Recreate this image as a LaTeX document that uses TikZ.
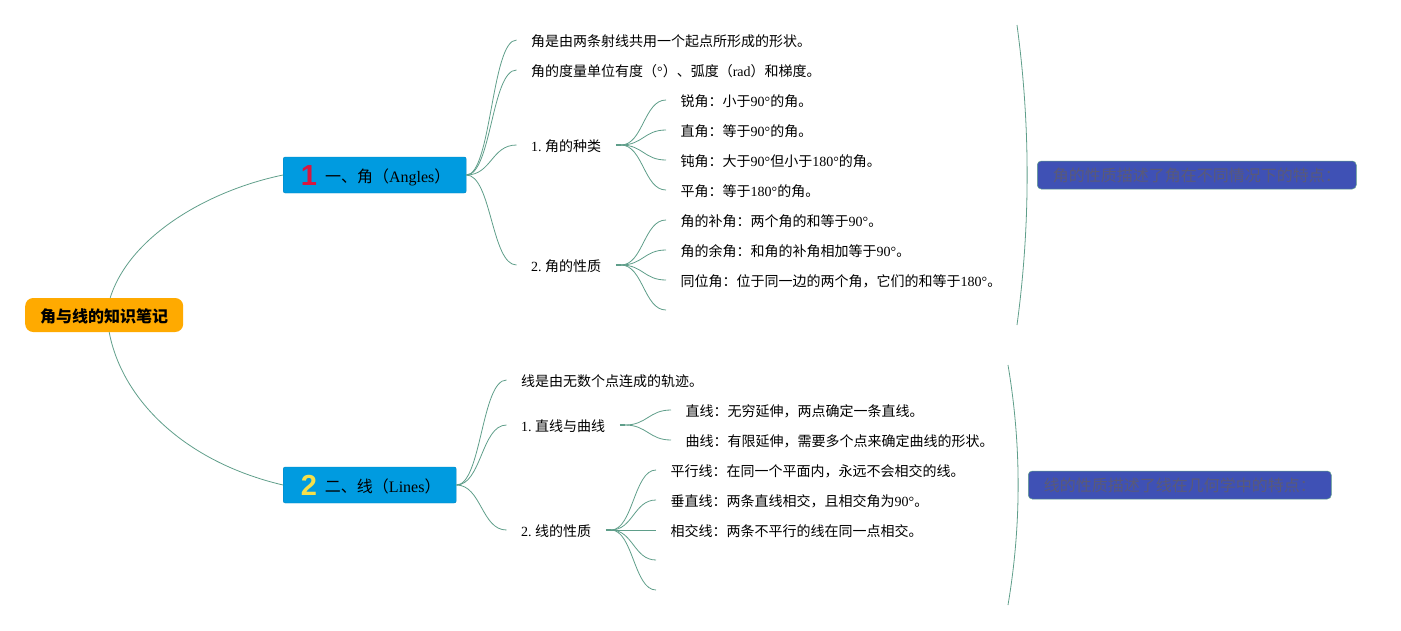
\documentclass[tikz,border=0pt]{standalone}
\usepackage{fontspec}
\setmainfont{Liberation Serif}
\newfontfamily\cjk{Noto Sans CJK SC}
\newfontfamily\markfont{Liberation Sans}
\newcommand{\zh}[1]{{\cjk #1}}
\frenchspacing
\definecolor{linkgreen}{HTML}{5F9E8A}
\definecolor{rootorange}{HTML}{FFAA00}
\definecolor{topicblue}{HTML}{009BE0}
\definecolor{noteblue}{HTML}{3F51B5}
\definecolor{notetext}{HTML}{5A5A78}
\definecolor{markred}{HTML}{D9163F}
\definecolor{markyellow}{HTML}{F5E04A}
\newcommand{\topicmark}[2]{\hspace*{2pt}{\markfont\fontsize{29}{29}\selectfont\bfseries\textcolor{#1}{\raisebox{-3pt}{#2}}}\hspace{8pt}}
\tikzset{
  leaf/.style={anchor=west, inner xsep=14.5pt, inner ysep=0pt, font=\fontsize{14}{14}\selectfont, text height=15pt, text depth=2pt},
  root/.style={fill=rootorange, rounded corners=8pt, minimum width=158pt, minimum height=34pt, inner sep=0pt, anchor=west, font=\fontsize{16}{16}\selectfont, text height=17pt, text depth=3pt},
  topic/.style={fill=topicblue, draw=topicblue!85!black, line width=0.4pt, rounded corners=2pt, minimum height=36pt, inner sep=0pt, anchor=west, font=\fontsize{16}{16}\selectfont, text height=17pt, text depth=3pt},
  note/.style={fill=noteblue, draw=linkgreen, line width=0.5pt, rounded corners=4pt, minimum height=28pt, inner sep=0pt, anchor=west, text=notetext, font=\fontsize{16}{16}\selectfont},
  link/.style={draw=linkgreen, line width=0.8pt},
  stem/.style={draw=linkgreen, line width=1.6pt},
  twig/.style={link, out=0, in=180, distance=#1},
  twig/.default=24pt
}
\begin{document}
\begin{tikzpicture}[x=1pt, y=-1pt]
\useasboundingbox (0,0) rectangle (1401,630);

\node[root] (root) at (25,315) {\zh{\bfseries 角与线的知识笔记}};
\node[topic, minimum width=183pt] (angles) at (283,175) {\topicmark{markred}{1}\zh{一、角（}Angles\zh{）}};
\node[topic, minimum width=173pt] (lines) at (283,485) {\topicmark{markyellow}{2}\zh{二、线（}Lines\zh{）}};

% first part
\node[leaf] (a1) at (516.5,40) {\zh{角是由两条射线共用一个起点所形成的形状。}};
\node[leaf] (a2) at (516.5,70) {\zh{角的度量单位有度（}°\zh{）、弧度（}rad\zh{）和梯度。}};
\node[leaf] (a3) at (516.5,145) {1. \zh{角的种类}};
\node[leaf] (a4) at (516.5,265) {2. \zh{角的性质}};
\node[leaf] (a31) at (666,100) {\zh{锐角：小于}90°\zh{的角。}};
\node[leaf] (a32) at (666,130) {\zh{直角：等于}90°\zh{的角。}};
\node[leaf] (a33) at (666,160) {\zh{钝角：大于}90°\zh{但小于}180°\zh{的角。}};
\node[leaf] (a34) at (666,190) {\zh{平角：等于}180°\zh{的角。}};
\node[leaf] (a41) at (666,220) {\zh{角的补角：两个角的和等于}90°\zh{。}};
\node[leaf] (a42) at (666,250) {\zh{角的余角：和角的补角相加等于}90°\zh{。}};
\node[leaf] (a43) at (666,280) {\zh{同位角：位于同一边的两个角，它们的和等于}180°\zh{。}};
\coordinate (a44) at (666,310);
\coordinate (a3hub) at (621,145);
\coordinate (a4hub) at (621,265);

% second part
\node[leaf] (b1) at (506.5,380) {\zh{线是由无数个点连成的轨迹。}};
\node[leaf] (b2) at (506.5,425) {1. \zh{直线与曲线}};
\node[leaf] (b3) at (506.5,530) {2. \zh{线的性质}};
\node[leaf] (b21) at (671,410) {\zh{直线：无穷延伸，两点确定一条直线。}};
\node[leaf] (b22) at (671,440) {\zh{曲线：有限延伸，需要多个点来确定曲线的形状。}};
\node[leaf] (b31) at (656,470) {\zh{平行线：在同一个平面内，永远不会相交的线。}};
\node[leaf] (b32) at (656,500) {\zh{垂直线：两条直线相交，且相交角为}90°\zh{。}};
\node[leaf] (b33) at (656,530) {\zh{相交线：两条不平行的线在同一点相交。}};
\coordinate (b34) at (656,560);
\coordinate (b35) at (656,590);
\coordinate (b2hub) at (625,425);
\coordinate (b3hub) at (611,530);

% summaries
\node[note, minimum width=319pt] (anote) at (1037,175) {\zh{角的性质描述了角在不同情况下的特点：}};
\node[note, minimum width=303pt] (bnote) at (1028,485) {\zh{线的性质描述了线在几何学中的特点：}};
\coordinate (atop) at (1017,25);
\coordinate (abot) at (1017,325);
\coordinate (btop) at (1008,365);
\coordinate (bbot) at (1008,605);

\draw[link] ([xshift=6pt]root.north) .. controls (130,235) and (210,190) .. (angles.west);
\draw[link] ([xshift=5pt]root.south) .. controls (122,400) and (185,462) .. (lines.west);

\foreach \n in {a1,a2,a3,a4} \draw[twig=25pt] (angles.east) to (\n.west);
\foreach \n in {b1,b2,b3} \draw[twig=25pt] (lines.east) to (\n.west);

\draw[stem] (a3.east) -- (a3hub);
\draw[stem] (a4.east) -- (a4hub);
\draw[stem] (b2.east) -- (b2hub);
\draw[stem] (b3.east) -- (b3hub);
\foreach \n in {a31,a32,a33,a34} \draw[twig=22pt] (a3hub) to (\n.west);
\foreach \n in {a41,a42,a43} \draw[twig=22pt] (a4hub) to (\n.west);
\draw[twig=22pt] (a4hub) to (a44);
\foreach \n in {b21,b22} \draw[twig=22pt] (b2hub) to (\n.west);
\foreach \n in {b31,b32,b33} \draw[twig=22pt] (b3hub) to (\n.west);
\draw[twig=22pt] (b3hub) to (b34);
\draw[twig=22pt] (b3hub) to (b35);

\draw[link] (atop) .. controls (1030.5,125) and (1030.5,225) .. (abot);
\draw[link] (btop) .. controls (1021.5,445) and (1021.5,525) .. (bbot);
\end{tikzpicture}
\end{document}
